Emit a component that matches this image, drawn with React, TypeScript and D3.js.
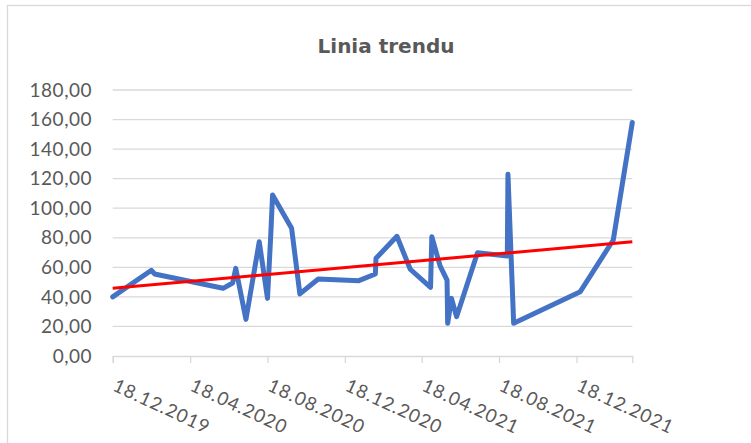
import React, { useEffect, useRef } from 'react';
import * as d3 from 'd3';

// date of each measurement (yyyy-mm-dd)
const dates = [
  '2019-12-18', '2020-02-17', '2020-02-22', '2020-06-09', '2020-06-24', '2020-06-29',
  '2020-07-15', '2020-08-05', '2020-08-18', '2020-08-23', '2020-08-26', '2020-09-25',
  '2020-10-08', '2020-11-06', '2021-01-09', '2021-02-04', '2021-02-05', '2021-03-10',
  '2021-03-31', '2021-05-02', '2021-05-04', '2021-05-17', '2021-05-28', '2021-05-29',
  '2021-06-04', '2021-06-12', '2021-07-15', '2021-08-31', '2021-09-01', '2021-09-10',
  '2021-12-24', '2022-02-14', '2022-03-16',
];

const values = [
  40, 58, 55.5, 45.8, 49.4, 59.3,
  24.8, 77.3, 39, 80.7, 109, 86.4,
  42, 52.1, 51, 55.5, 66.1, 81,
  58.7, 46.5, 80.7, 61, 51.4, 22.1,
  39, 26.6, 69.9, 67.7, 123, 22.1,
  43.5, 78.5, 158,
];

// linear trend line (start / end value)
const trendValues = [45.8, 77.3];

const xTickLabels = [
  '18.12.2019', '18.04.2020', '18.08.2020', '18.12.2020',
  '18.04.2021', '18.08.2021', '18.12.2021',
];

const yTicks = [0, 20, 40, 60, 80, 100, 120, 140, 160, 180];

const title = 'Linia trendu';

const App: React.FC = () => {
  const ref = useRef<SVGSVGElement>(null);

  useEffect(() => {
    const svg = d3.select(ref.current);
    svg.selectAll('*').remove();

    const W = 751;
    const H = 443;
    const left = 112.7;
    const right = 632.3;
    const top = 90;
    const bottom = 356;
    const font = 'Lato, "Open Sans", sans-serif';
    const textColor = '#595959';
    const gridColor = '#D9D9D9';

    const parse = d3.utcParse('%Y-%m-%d');
    const parseTick = d3.utcParse('%d.%m.%Y');
    const data = dates.map((d, i) => ({ date: parse(d)!, value: values[i] }));

    const x = d3
      .scaleUtc()
      .domain([data[0].date, data[data.length - 1].date])
      .range([left, right]);

    const y = d3.scaleLinear().domain([0, 180]).range([bottom, top]);

    svg.attr('width', W).attr('height', H);

    // ramka wykresu
    svg
      .append('rect')
      .attr('x', 7.5)
      .attr('y', 5.5)
      .attr('width', 800)
      .attr('height', 500)
      .attr('fill', 'white')
      .attr('stroke', gridColor)
      .attr('stroke-width', 1.3);

    // tytul
    svg
      .append('text')
      .attr('x', 386)
      .attr('y', 53)
      .attr('text-anchor', 'middle')
      .attr('font-family', '"DejaVu Sans", sans-serif')
      .attr('font-weight', 'bold')
      .attr('font-size', 20)
      .attr('fill', textColor)
      .text(title);

    // linie siatki
    svg
      .append('g')
      .selectAll('line')
      .data(yTicks.filter(t => t > 0))
      .enter()
      .append('line')
      .attr('x1', left)
      .attr('x2', right)
      .attr('y1', d => y(d))
      .attr('y2', d => y(d))
      .attr('stroke', gridColor)
      .attr('stroke-width', 1.3);

    // etykiety osi Y
    svg
      .append('g')
      .selectAll('text')
      .data(yTicks)
      .enter()
      .append('text')
      .attr('x', 92)
      .attr('y', d => y(d))
      .attr('dy', '0.35em')
      .attr('text-anchor', 'end')
      .attr('font-family', font)
      .attr('font-size', 19)
      .attr('letter-spacing', 0.5)
      .attr('fill', textColor)
      .text(d => d3.format('.2f')(d).replace('.', ','));

    // os X
    const xAxis = svg
      .append('g')
      .attr('transform', `translate(0,${bottom})`)
      .call(
        d3
          .axisBottom(x)
          .tickValues(xTickLabels.map(t => parseTick(t)!))
          .tickSize(7)
          .tickFormat(() => '')
      );
    xAxis.select('.domain').attr('stroke', gridColor).attr('stroke-width', 1.3);
    xAxis.selectAll('.tick line').attr('stroke', gridColor).attr('stroke-width', 1.3);

    // obrocone etykiety dat
    svg
      .append('g')
      .selectAll('text')
      .data(xTickLabels)
      .enter()
      .append('text')
      .attr('transform', d => `translate(${x(parseTick(d)!) - 1},${bottom + 34}) rotate(25)`)
      .attr('text-anchor', 'start')
      .attr('font-family', font)
      .attr('font-size', 18.5)
      .attr('letter-spacing', 1)
      .attr('fill', textColor)
      .text(d => d);

    // seria danych
    const line = d3
      .line<{ date: Date; value: number }>()
      .x(d => x(d.date))
      .y(d => y(d.value));

    svg
      .append('path')
      .datum(data)
      .attr('d', line)
      .attr('fill', 'none')
      .attr('stroke', '#4472C4')
      .attr('stroke-width', 5)
      .attr('stroke-linejoin', 'round')
      .attr('stroke-linecap', 'round');

    // linia trendu
    const trend = [
      { date: data[0].date, value: trendValues[0] },
      { date: data[data.length - 1].date, value: trendValues[1] },
    ];
    svg
      .append('path')
      .datum(trend)
      .attr('d', line)
      .attr('fill', 'none')
      .attr('stroke', '#FF0000')
      .attr('stroke-width', 3);
  }, []);

  return <svg ref={ref} style={{ position: 'absolute', left: 0, top: 0 }} />;
};

export default App;
